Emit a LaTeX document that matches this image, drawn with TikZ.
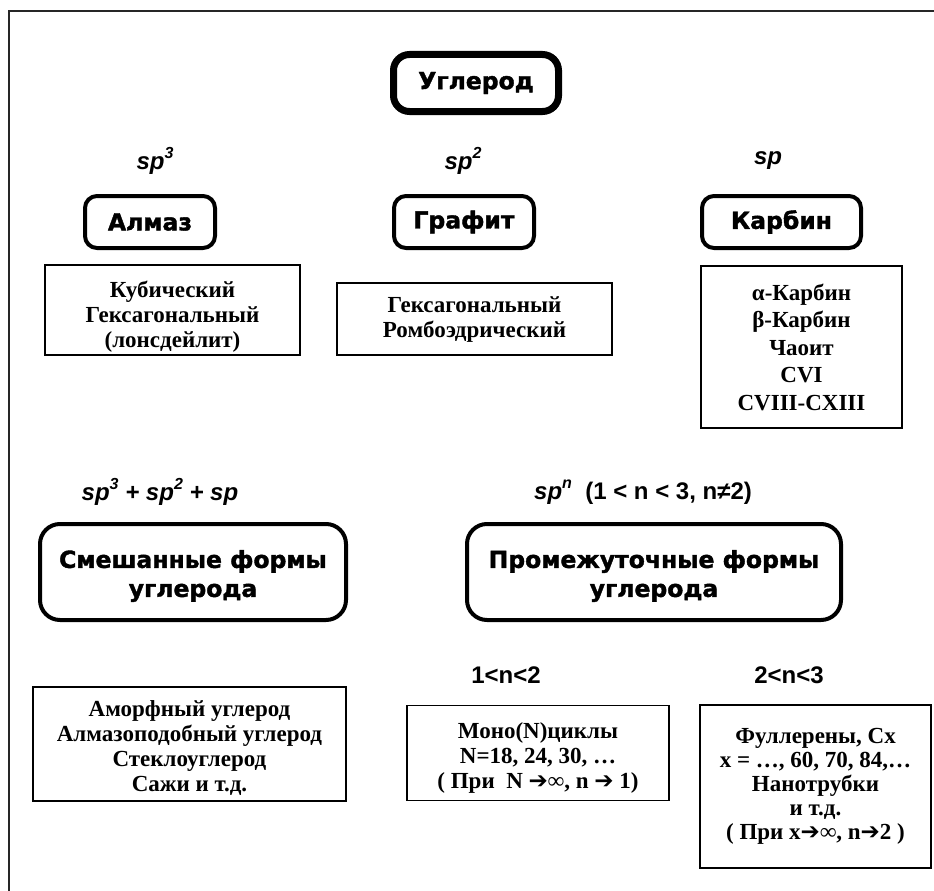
\documentclass[tikz,border=0pt]{standalone}
\usepackage{fontspec}
\setmainfont{Liberation Serif}
\newfontfamily\heavyf{DejaVu Sans Bold}[FakeBold=1.6]
\newfontfamily\arialf{Liberation Sans}
\newfontfamily\symf{DejaVu Sans}
\newcommand\supx[1]{\raisebox{0.45em}{\fontsize{16}{16}\selectfont #1}}
\newcommand\arr{{\symf\bfseries ➔}}
\tikzset{
  headbox/.style={draw, rounded corners=12pt, line width=4pt, align=center,
    font=\heavyf\fontsize{23.5}{29}\selectfont, inner sep=0pt},
  rootbox/.style={headbox, line width=7pt, rounded corners=16pt},
  bigbox/.style={draw, rounded corners=20pt, line width=4pt, inner sep=0pt},
  bigtext/.style={align=center, font=\heavyf\fontsize{23.5}{29}\selectfont, inner sep=0pt},
  listbox/.style={draw, line width=1.3pt, inner sep=0pt},
  listtext/.style={align=center, inner sep=0pt, font=\bfseries\fontsize{23}{25}\selectfont},
  hyb/.style={font=\arialf\bfseries\itshape\fontsize{24}{28}\selectfont, inner sep=0pt},
  rng/.style={font=\arialf\bfseries\fontsize{24}{28}\selectfont, inner sep=0pt}
}
\begin{document}
\begin{tikzpicture}[x=1pt,y=-1pt]
\useasboundingbox (0,0) rectangle (934,891);
\begin{scope}
\clip (0,0) rectangle (934,891);
\draw[line width=2pt, black!85] (8.5,11) rectangle (960,920);
\end{scope}
% root
\node[rootbox, minimum width=165, minimum height=57] (root) at (476,83) {Углерод};
% hybridisation labels
\node[hyb] (l3) at (155,161) {sp\supx{3}};
\node[hyb] (l2) at (463,161) {sp\supx{2}};
\node[hyb] (l1) at (768,161) {sp};
% main allotropes
\node[headbox, minimum width=130, minimum height=52] (almaz) at (150,222) {Алмаз};
\node[headbox, minimum width=140, minimum height=52] (grafit) at (464,222) {Графит};
\node[headbox, minimum width=159, minimum height=52] (karbin) at (781.5,222) {Карбин};
% lists
\node[listbox, minimum width=255, minimum height=90] (almazl) at (172.5,310) {};
\node[listtext] (almazt) at ([yshift=-7pt]almazl.center) {Кубический\\Гексагональный\\(лонсдейлит)};
\node[listbox, minimum width=275, minimum height=72] (grafitl) at (474.5,319) {};
\node[listtext] (grafitt) at ([yshift=-1pt]grafitl.center) {Гексагональный\\Ромбоэдрический};
\node[listbox, minimum width=201, minimum height=162] (karbinl) at (801.5,347) {};
\node[listtext, font=\bfseries\fontsize{23}{27.5}\selectfont] (karbint) at (karbinl.center)
  {α-Карбин\\β-Карбин\\Чаоит\\CVI\\CVIII-CXIII};
% second row labels
\node[hyb] (lmix) at (160,492) {sp\supx{3} + sp\supx{2} + sp};
\node[hyb] (ln) at (643,492) {sp\supx{n}\ \ {\upshape(1 < n < 3, n≠2)}};
% mixed / intermediate
\node[bigbox, minimum width=306, minimum height=96] (mix) at (193,572) {};
\node[bigtext] (mixt) at ([yshift=-4pt]mix.center) {Смешанные формы\\углерода};
\node[bigbox, minimum width=374, minimum height=96] (inter) at (654,572) {};
\node[bigtext] (intert) at ([yshift=-4pt]inter.center) {Промежуточные формы\\углерода};
\node[rng] (r1) at (506,675) {1<n<2};
\node[rng] (r2) at (789,675) {2<n<3};
% bottom lists
\node[listbox, minimum width=313, minimum height=114] (mixl) at (189.5,744) {};
\node[listtext] (mixlt) at ([yshift=-4pt]mixl.center)
  {Аморфный углерод\\Алмазоподобный углерод\\Стеклоуглерод\\Сажи и т.д.};
\node[listbox, minimum width=262, minimum height=95] (monol) at (538,753) {};
\node[listtext] (monot) at ([yshift=-5pt]monol.center)
  {Моно(N)циклы\\N=18, 24, 30, …\\( При\ \ N \arr∞, n \arr\ 1)};
\node[listbox, minimum width=231, minimum height=163] (fulll) at (815.5,786.5) {};
\node[listtext, font=\bfseries\fontsize{23}{24}\selectfont] (fullt) at (fulll.center)
  {Фуллерены, Cx\\x = …, 60, 70, 84,…\\Нанотрубки\\и т.д.\\( При x\arr∞, n\arr2 )};
\end{tikzpicture}
\end{document}
